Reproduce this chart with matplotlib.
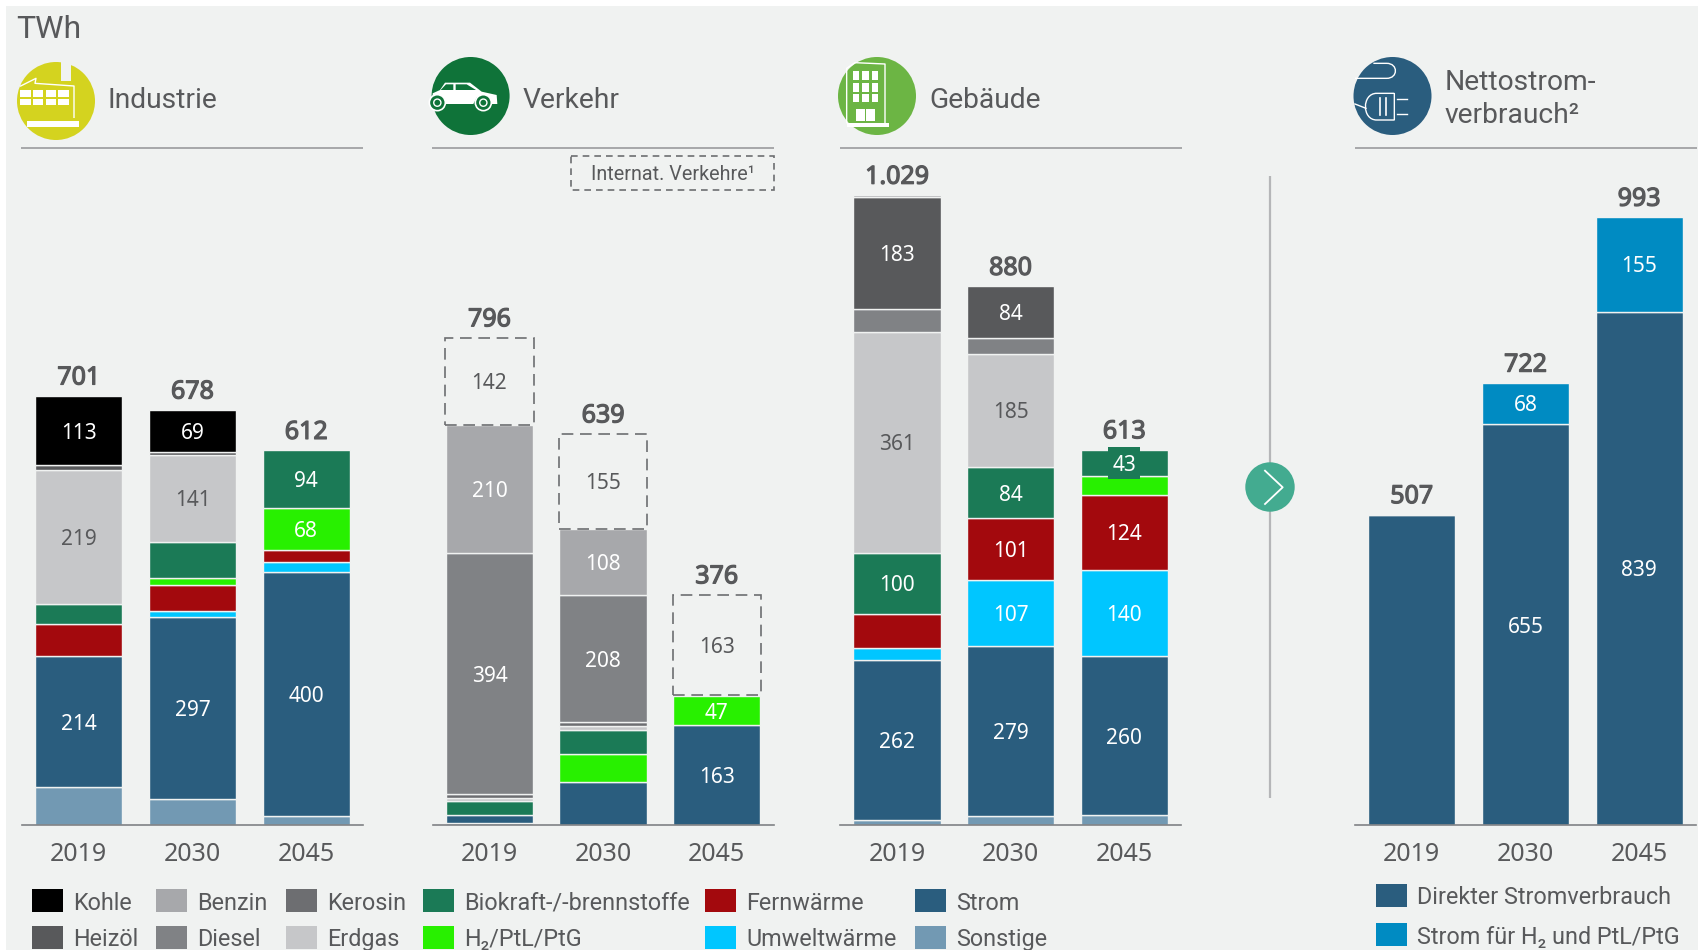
import matplotlib
matplotlib.use("Agg")
import matplotlib.pyplot as plt
import matplotlib.patheffects as pe
from matplotlib.patches import Circle, Rectangle, Polygon, PathPatch
from matplotlib.path import Path

plt.rcParams['font.family'] = ['Noto Sans', 'DejaVu Sans']
HEAD_FONT = ['Roboto', 'Noto Sans', 'DejaVu Sans']

W, H = 1698, 950
BG = '#f0f2f1'
TXT = '#58595b'
RULE = '#9a9b9d'

years = ['2019', '2030', '2045']

# stacking order, bottom to top
fuels = ['Sonstige', 'Strom', 'Umweltwärme', 'Fernwärme', 'H₂/PtL/PtG',
         'Biokraft-/-brennstoffe', 'Erdgas', 'Kerosin', 'Diesel', 'Heizöl',
         'Benzin', 'Kohle']
fuel_colors = ['#7299b3', '#2a5d7e', '#00c6ff', '#a3090d', '#28f000',
               '#1b7a56', '#c6c7c9', '#6d6e71', '#808285', '#58595b',
               '#a7a8ab', '#000000']
dark_label_fuels = ['Erdgas']

# TWh, one row per fuel in the order above, columns 2019/2030/2045
ind_sonstige = [62, 43, 14]
ind_strom = [214, 297, 400]
ind_umwelt = [0, 10, 16]
ind_fern = [53, 42, 20]
ind_h2 = [0, 11, 68]
ind_bio = [32, 60, 94]
ind_erdgas = [219, 141, 0]
ind_kerosin = [0, 0, 0]
ind_diesel = [0, 0, 0]
ind_heizoel = [8, 5, 0]
ind_benzin = [0, 0, 0]
ind_kohle = [113, 69, 0]
ind_totals = [701, 678, 612]
ind_labelled = [214, 297, 400, 219, 141, 113, 69, 94, 68]

ver_sonstige = [3, 0, 0]
ver_strom = [13, 70, 163]
ver_umwelt = [0, 0, 0]
ver_fern = [0, 0, 0]
ver_h2 = [0, 46, 47]
ver_bio = [24, 40, 0]
ver_erdgas = [4, 6, 0]
ver_kerosin = [6, 6, 0]
ver_diesel = [394, 208, 0]
ver_heizoel = [0, 0, 0]
ver_benzin = [210, 108, 0]
ver_kohle = [0, 0, 0]
ver_totals = [796, 639, 376]
ver_international = [142, 155, 163]
ver_labelled = [163, 47, 108, 208, 210, 394]

geb_sonstige = [8, 14, 16]
geb_strom = [262, 279, 260]
geb_umwelt = [19, 107, 140]
geb_fern = [56, 101, 124]
geb_h2 = [0, 0, 30]
geb_bio = [100, 84, 43]
geb_erdgas = [361, 185, 0]
geb_kerosin = [0, 0, 0]
geb_diesel = [37, 26, 0]
geb_heizoel = [183, 84, 0]
geb_benzin = [3, 0, 0]
geb_kohle = [0, 0, 0]
geb_totals = [1029, 880, 613]
geb_labelled = [262, 279, 260, 107, 140, 101, 124, 100, 84, 361, 185, 183, 43]

net_direkt = [507, 655, 839]
net_h2 = [0, 68, 155]
net_totals = [507, 722, 993]
net_colors = ['#2a5d7e', '#008bc2']
net_names = ['Direkter Stromverbrauch', 'Strom für H₂ und PtL/PtG']

ind_rows = [ind_sonstige, ind_strom, ind_umwelt, ind_fern, ind_h2, ind_bio, ind_erdgas,
            ind_kerosin, ind_diesel, ind_heizoel, ind_benzin, ind_kohle]
ver_rows = [ver_sonstige, ver_strom, ver_umwelt, ver_fern, ver_h2, ver_bio, ver_erdgas,
            ver_kerosin, ver_diesel, ver_heizoel, ver_benzin, ver_kohle]
geb_rows = [geb_sonstige, geb_strom, geb_umwelt, geb_fern, geb_h2, geb_bio, geb_erdgas,
            geb_kerosin, geb_diesel, geb_heizoel, geb_benzin, geb_kohle]

fig = plt.figure(figsize=(W / 100, H / 100), dpi=100, facecolor='white')

# pixel-space layer for background, headers, icons and legends
ov = fig.add_axes([0, 0, 1, 1], zorder=0)
ov.set_xlim(0, W)
ov.set_ylim(H, 0)
ov.axis('off')
ov.add_patch(Rectangle((6, 6), W, H, fc=BG, ec='none'))

BASE_Y = 825
PX_PER_TWH = 0.612
YMAX = 1060
BAR_W = 0.768
BOLD = [pe.withStroke(linewidth=0.9, foreground=TXT)]


def panel(x0, x1):
    top = BASE_Y - YMAX * PX_PER_TWH
    ax = fig.add_axes([x0 / W, 1 - BASE_Y / H, (x1 - x0) / W, (BASE_Y - top) / H], zorder=2)
    ax.patch.set_alpha(0)
    ax.set_xlim(-0.5, 2.5)
    ax.set_ylim(0, YMAX)
    for s in ['top', 'left', 'right']:
        ax.spines[s].set_visible(False)
    ax.spines['bottom'].set_color('#808285')
    ax.spines['bottom'].set_linewidth(1.2)
    ax.set_yticks([])
    ax.set_xticks(range(3))
    ax.set_xticklabels(years, fontsize=18, color=TXT)
    ax.tick_params(axis='x', length=0, pad=12.5)
    return ax


def total_label(ax, i, t):
    ax.annotate(f'{t:,}'.replace(',', '.'), (i, t), xytext=(0, 8.3), textcoords='offset points',
                ha='center', va='baseline', fontsize=18, color=TXT, zorder=6, path_effects=BOLD)


def stacked(ax, rows, names, colors, labelled, totals, box_value=None):
    bottoms = [0, 0, 0]
    for row, name, col in zip(rows, names, colors):
        for i, v in enumerate(row):
            if v == 0:
                continue
            ax.bar(i, v, BAR_W, bottom=bottoms[i], color=col, edgecolor=BG, linewidth=1.0)
            if v in labelled:
                c = TXT if name in dark_label_fuels else 'white'
                mid = bottoms[i] + v / 2
                if v == box_value and name == 'Biokraft-/-brennstoffe' and i == 2:
                    # small backing plate behind the cramped label
                    ax.bar(i, 32 / PX_PER_TWH, 32 / 113.7, bottom=mid - 16 / PX_PER_TWH,
                           color=col, edgecolor='none', zorder=4)
                ax.text(i, mid, str(v), ha='center', va='center_baseline',
                        fontsize=15, color=c, zorder=5)
            bottoms[i] += v
    for i, t in enumerate(totals):
        total_label(ax, i, t)
    return bottoms


# Industrie
ax1 = panel(22, 363)
stacked(ax1, ind_rows, fuels, fuel_colors, ind_labelled, ind_totals)

# Verkehr
ax2 = panel(432.7, 773.5)
stacked(ax2, ver_rows, fuels, fuel_colors, ver_labelled, ver_totals)
for i, (t, v) in enumerate(zip(ver_totals, ver_international)):
    ax2.bar(i, v, 0.775, bottom=t - v, facecolor='none', edgecolor='#6d6e71',
            linewidth=1.2, linestyle=(0, (7, 4)))
    ax2.text(i, t - v / 2, str(v), ha='center', va='center_baseline', fontsize=15, color=TXT)

# Gebäude
ax3 = panel(840.3, 1181)
stacked(ax3, geb_rows, fuels, fuel_colors, geb_labelled, geb_totals, box_value=43)

# Nettostromverbrauch
ax4 = panel(1355, 1696)
ax4.bar(range(3), net_direkt, BAR_W, color=net_colors[0], edgecolor=BG, linewidth=1.0)
ax4.bar(range(3), net_h2, BAR_W, bottom=net_direkt, color=net_colors[1], edgecolor=BG, linewidth=1.0)
for i in (1, 2):
    ax4.text(i, net_direkt[i] / 2, str(net_direkt[i]), ha='center', va='center_baseline',
             fontsize=15, color='white')
    ax4.text(i, net_direkt[i] + net_h2[i] / 2, str(net_h2[i]), ha='center', va='center_baseline',
             fontsize=15, color='white')
for i, t in enumerate(net_totals):
    total_label(ax4, i, t)

# header text and rules
ov.text(16.5, 38, 'TWh', fontsize=23, color=TXT, va='baseline', family=HEAD_FONT)
ov.text(108, 107.5, 'Industrie', fontsize=20.3, color=TXT, va='baseline', family=HEAD_FONT)
ov.text(522.5, 107.5, 'Verkehr', fontsize=20.3, color=TXT, va='baseline', family=HEAD_FONT)
ov.text(929, 107.5, 'Gebäude', fontsize=20.3, color=TXT, va='baseline', family=HEAD_FONT)
ov.text(1445, 90.5, 'Nettostrom-', fontsize=20.3, color=TXT, va='baseline', family=HEAD_FONT)
ov.text(1445, 123, 'verbrauch²', fontsize=20.3, color=TXT, va='baseline', family=HEAD_FONT)
for a, b in [(21, 363), (432, 774), (839.7, 1182), (1354.7, 1697)]:
    ov.plot([a, b], [148, 148], color=RULE, lw=1.2, solid_capstyle='butt')

# dashed key for international transport
ov.add_patch(Rectangle((571.5, 156), 202.5, 34, fc='none', ec='#6d6e71', lw=1.2, ls=(0, (4, 3))))
ov.text(672.5, 180.5, 'Internat. Verkehre¹', fontsize=14.2, color=TXT, ha='center', va='baseline',
        family=HEAD_FONT)

# divider and arrow
ov.plot([1270, 1270], [176, 798], color='#b5b6b8', lw=1.6, solid_capstyle='butt')
ov.add_patch(Circle((1270, 487), 24.7, fc='#43ab90', ec='none', zorder=3))
ov.plot([1265, 1282.7, 1265], [470.7, 487.3, 504], color='white', lw=1.3, zorder=4)


# icons (sketch coordinates taken from crops at 3x)
def Z(ox, oy, pts):
    return [(ox + x / 3, oy + y / 3) for x, y in pts]


def poly(ox, oy, pts, fc='white', **kw):
    ov.add_patch(Polygon(Z(ox, oy, pts), closed=True, fc=fc, ec='none', zorder=4, **kw))


def line(ox, oy, pts, lw=1.0):
    p = Z(ox, oy, pts)
    ov.plot([a for a, _ in p], [b for _, b in p], color='white', lw=lw, zorder=4)


def box(ox, oy, x0, y0, x1, y1, fc='white'):
    poly(ox, oy, [(x0, y0), (x1, y0), (x1, y1), (x0, y1)], fc=fc)


# factory
ov.add_patch(Circle((56, 101), 39, fc='#d4d31f', ec='none', zorder=3))
for x0, x1 in [(60, 92), (98, 130), (137, 169), (175, 207)]:
    box(0, 0, x0, 270, x1, 290)
    box(0, 0, x0, 297, x1, 315)
box(0, 0, 183, 183, 212, 242, fc=BG)
box(0, 0, 80, 364, 237, 380)
line(0, 0, [(62, 258), (108, 235), (105, 250), (222, 258), (222, 352)], lw=1.0)

# car
ov.add_patch(Circle((470.6, 96), 39, fc='#0f7339', ec='none', zorder=3))
GREEN = '#0f7339'
poly(420, 40, [(38, 160), (60, 150), (75, 128), (150, 128), (185, 155), (230, 165), (232, 192),
               (215, 192), (210, 178), (170, 172), (160, 192), (78, 192), (70, 174), (38, 170)])
poly(420, 40, [(62, 150), (78, 133), (100, 133), (100, 150)], fc=GREEN)
poly(420, 40, [(107, 133), (140, 133), (168, 150), (107, 150)], fc=GREEN)
for cx, cy in [(190, 188), (52, 188)]:
    (px, py), = Z(420, 40, [(cx, cy)])
    ov.add_patch(Circle((px, py), 8, fc=GREEN, ec='white', lw=1.2, zorder=5))
    ov.add_patch(Circle((px, py), 3.6, fc=GREEN, ec='white', lw=1.0, zorder=5))

# building
ov.add_patch(Circle((877, 96), 39, fc='#6cb544', ec='none', zorder=3))
for x0, x1 in [(68, 88), (97, 117), (125, 145)]:
    for y0, y1 in [(212, 240), (248, 277), (282, 307)]:
        box(830, 0, x0, y0, x1, y1)
box(830, 0, 78, 328, 105, 362)
box(830, 0, 108, 328, 135, 362)
box(830, 0, 50, 368, 178, 380)
line(830, 0, [(50, 368), (50, 205), (75, 188), (165, 192), (165, 368)], lw=1.0)

# plug
ov.add_patch(Circle((1392.5, 96), 39, fc='#2a5d7e', ec='none', zorder=3))
verts = Z(1240, 0, [(345, 235), (440, 235), (475, 235), (475, 190), (440, 190), (400, 190)])
ov.add_patch(PathPatch(Path(verts, [Path.MOVETO, Path.LINETO, Path.CURVE4, Path.CURVE4, Path.CURVE4, Path.LINETO]),
                       fc='none', ec='white', lw=1.0, zorder=4))
verts = Z(1240, 0, [(463, 280), (410, 280), (365, 280), (365, 360), (410, 360), (463, 360), (463, 280)])
ov.add_patch(PathPatch(Path(verts, [Path.MOVETO, Path.LINETO, Path.CURVE4, Path.CURVE4, Path.CURVE4, Path.LINETO, Path.LINETO]),
                       fc='none', ec='white', lw=1.0, zorder=4))
line(1240, 0, [(420, 295), (420, 345)], lw=1.2)
line(1240, 0, [(438, 295), (438, 345)], lw=1.2)
line(1240, 0, [(470, 297), (502, 297)], lw=1.0)
line(1240, 0, [(470, 342), (502, 342)], lw=1.0)
line(1240, 0, [(345, 312), (378, 325)], lw=1.0)

# legends
legend_cols = [
    (32, ['Kohle', 'Heizöl']),
    (155.7, ['Benzin', 'Diesel']),
    (286, ['Kerosin', 'Erdgas']),
    (423, ['Biokraft-/-brennstoffe', 'H₂/PtL/PtG']),
    (705, ['Fernwärme', 'Umweltwärme']),
    (915, ['Strom', 'Sonstige']),
]
row_tops = [889, 925.7]
for x, names in legend_cols:
    for y, name in zip(row_tops, names):
        ov.add_patch(Rectangle((x, y), 31.5, 23, fc=fuel_colors[fuels.index(name)], ec='none', zorder=3))
        ov.text(x + 41, y + 20.5, name, fontsize=16.8, color=TXT, va='baseline', zorder=3, family=HEAD_FONT)
for y, name, col in zip([883.5, 923], net_names, net_colors):
    ov.add_patch(Rectangle((1375.7, y), 31.5, 23, fc=col, ec='none', zorder=3))
    ov.text(1416.7, y + 20.5, name, fontsize=16.8, color=TXT, va='baseline', zorder=3, family=HEAD_FONT)

fig.savefig('out.png', dpi=100, facecolor='white')
